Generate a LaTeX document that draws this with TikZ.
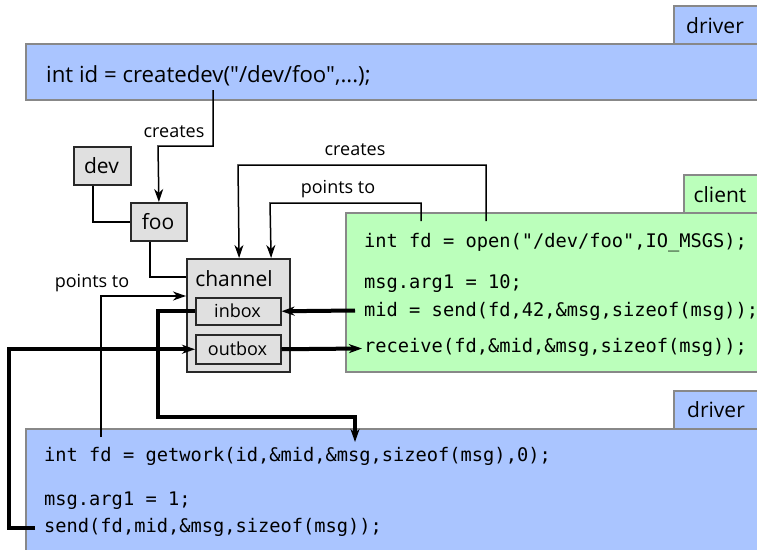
\documentclass[tikz,border=0pt]{standalone}
\usepackage{fontspec}
\setmainfont{Open Sans}[Ligatures=TeXOff]
\setmonofont{DejaVu Sans Mono}
\usetikzlibrary{arrows.meta}

\definecolor{drvblue}{RGB}{170,197,255}
\definecolor{cligreen}{RGB}{187,255,187}
\definecolor{boxgray}{RGB}{224,224,224}
\definecolor{edgegray}{RGB}{136,136,136}
\definecolor{edgedark}{RGB}{40,40,40}

\tikzset{
  panel/.style={draw=edgegray, line width=1.5pt, inner sep=0pt, anchor=north west},
  drvpanel/.style={panel, fill=drvblue},
  clipanel/.style={panel, fill=cligreen},
  objbox/.style={draw=edgedark, fill=boxgray, line width=1.8pt, inner sep=0pt, anchor=north west},
  biglbl/.style={font=\fontsize{21}{21}\selectfont, inner sep=0pt, anchor=base},
  smalllbl/.style={font=\fontsize{18}{18}\selectfont, inner sep=0pt, anchor=base},
  codeline/.style={font=\fontsize{18.7}{18.7}\selectfont\ttfamily, inner sep=0pt, anchor=base west},
  tip/.tip={Stealth[length=13pt,width=9pt,inset=4pt]},
  thinlink/.style={line width=1.5pt},
  thinarrow/.style={thinlink, -tip},
  thicklink/.style={line width=4pt},
  thickarrow/.style={thicklink, -tip},
}

\begin{document}
\begin{tikzpicture}[x=1pt,y=-1pt]
\useasboundingbox (0,0) rectangle (757,549);
\clip (0,0) rectangle (757,549);

% driver (top): createdev
\node[drvpanel, minimum width=90pt, minimum height=38pt] (drvtab1) at (673,5) {};
\node[drvpanel, minimum width=745pt, minimum height=56pt] (drvpanel1) at (25,43) {};
\node[biglbl] (drvtab1txt) at (715,33) {driver};
\node[biglbl, font=\fontsize{22.2}{22.2}\selectfont, anchor=base west] (createdev) at (46,82) {int id = createdev("/dev/foo",...);};
\coordinate (cdvhook) at (213,90);

% client
\node[clipanel, minimum width=80pt, minimum height=38pt] (clitab) at (683,174) {};
\node[clipanel, minimum width=420pt, minimum height=159pt] (clipanel) at (345,212) {};
\node[biglbl] (clitabtxt) at (720,202) {client};
\node[codeline] (cliopen) at (364,247) {int fd = open("/dev/foo",IO\_MSGS);};
\node[codeline] (cliarg) at (364,288) {msg.arg1 = 10;};
\node[codeline] (clisend) at (364,316) {mid = send(fd,42,\&msg,sizeof(msg));};
\node[codeline] (clirecv) at (364,352) {receive(fd,\&mid,\&msg,sizeof(msg));};
\coordinate (openfd) at (421,221);
\coordinate (openfile) at (486,221);
\coordinate (sendhook) at (355,310.5);
\coordinate (recvhook) at (362,348.5);

% driver (bottom): getwork / reply
\node[drvpanel, minimum width=90pt, minimum height=38pt] (drvtab2) at (673,390) {};
\node[drvpanel, minimum width=745pt, minimum height=130pt] (drvpanel2) at (25,428) {};
\node[biglbl] (drvtab2txt) at (716,417) {driver};
\node[codeline] (drvgetwork) at (44,461) {int fd = getwork(id,\&mid,\&msg,sizeof(msg),0);};
\node[codeline] (drvarg) at (44,505) {msg.arg1 = 1;};
\node[codeline] (drvsend) at (44,532) {send(fd,mid,\&msg,sizeof(msg));};
\coordinate (getworkhook) at (355,442);
\coordinate (getworkfd) at (101,437);
\coordinate (replyhook) at (35,528);

% device objects
\node[objbox, minimum width=57pt, minimum height=38pt] (dev) at (73,146) {};
\node[biglbl] (devtxt) at (101.5,173) {dev};
\node[objbox, minimum width=56pt, minimum height=38pt] (foo) at (130,202) {};
\node[biglbl] (footxt) at (158,229) {foo};
\node[objbox, line width=2.2pt, minimum width=103pt, minimum height=113pt] (channel) at (186,258) {};
\node[biglbl] (channeltxt) at (234,286) {channel};
\node[objbox, line width=1.5pt, minimum width=85pt, minimum height=27pt] (inbox) at (195,297) {};
\node[smalllbl] (inboxtxt) at (237.5,317) {inbox};
\node[objbox, line width=1.5pt, minimum width=85pt, minimum height=29pt] (outbox) at (195,334) {};
\node[smalllbl] (outboxtxt) at (237.5,355) {outbox};

% naming links
\draw[thinarrow] (cdvhook) |- (158,146) -- (foo.north);
\node[smalllbl] (creates1) at (174,137) {creates};
\draw[thinlink] ([xshift=-9.5pt]dev.south) |- (foo.west);
\draw[thinlink] ([xshift=-9pt]foo.south) |- ([yshift=-19pt]channel.north west);

% open() links
\draw[thinarrow] (openfile) |- (238,165) -- ([xshift=0.5pt]channel.north);
\node[smalllbl] (creates2) at (355,155) {creates};
\draw[thinarrow] (openfd) |- (270,203) -- ([xshift=32.5pt]channel.north);
\node[smalllbl] (pointsto1) at (338,193) {points to};

% getwork fd link
\draw[thinarrow] (getworkfd) |- ([yshift=-38pt]channel.north west);
\node[smalllbl] (pointsto2) at (92,287) {points to};

% message flow
\draw[thickarrow] (sendhook) -- (inbox.east);
\draw[thickarrow] (inbox.west) -| (158,417) -| (getworkhook);
\draw[thickarrow] (replyhook) -- (9,528) |- (outbox.west);
\draw[thickarrow] (outbox.east) -- (recvhook);
\end{tikzpicture}
\end{document}
